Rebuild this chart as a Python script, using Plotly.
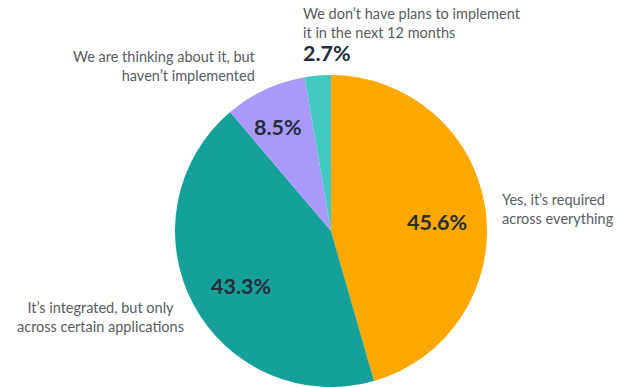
import plotly.graph_objects as go

# Survey responses, in clockwise order from 12 o'clock
labels = [
    "Yes, it’s required<br>across everything",
    "It’s integrated, but only<br>across certain applications",
    "We are thinking about it, but<br>haven’t implemented",
    "We don’t have plans to implement<br>it in the next 12 months",
]
values = [45.6, 43.3, 8.5, 2.7]
colors = ["#FFA800", "#15A09A", "#A999FB", "#41CAC2"]

W, H = 628, 387
cx, cy, r = 331, 231, 156  # pie centre and radius in pixels

fig = go.Figure(go.Pie(
    values=values,
    labels=labels,
    marker=dict(colors=colors, line=dict(width=0)),
    sort=False,
    direction="clockwise",
    rotation=0,
    textinfo="none",
    hoverinfo="label+value",
    showlegend=False,
    domain=dict(x=[(cx - r) / W, (cx + r) / W],
                y=[(H - cy - r) / H, (H - cy + r) / H]),
))

label_font = dict(family="Lato", size=14.5, color="#575C63")
pct_font = dict(family="Lato", size=21.5, color="#252D3A")

def px(x):
    return x / W

def py(y):
    return 1 - y / H

pct = [f"<b>{v:.1f}%</b>" for v in values]

annotations = [
    # category captions
    dict(x=px(500), y=py(209), text=labels[0], xanchor="left", align="left"),
    dict(x=px(100), y=py(317), text=labels[1], xanchor="center", align="center"),
    dict(x=px(258), y=py(66), text=labels[2], xanchor="right", align="right"),
    dict(x=px(301), y=py(23), text=labels[3], xanchor="left", align="left"),
]
for a in annotations:
    a.update(font=label_font, yanchor="middle", showarrow=False,
             xref="paper", yref="paper")

pct_pos = [
    dict(x=px(437), y=py(222), xanchor="center"),
    dict(x=px(241), y=py(286), xanchor="center"),
    dict(x=px(278), y=py(127), xanchor="center"),
    dict(x=px(301), y=py(53), xanchor="left"),
]
for t, p in zip(pct, pct_pos):
    annotations.append(dict(text=t, font=pct_font, yanchor="middle",
                            showarrow=False, xref="paper", yref="paper", **p))

fig.update_layout(
    width=W, height=H,
    margin=dict(l=0, r=0, t=0, b=0),
    paper_bgcolor="white",
    plot_bgcolor="white",
    annotations=annotations,
)

fig.write_html("out.html")
